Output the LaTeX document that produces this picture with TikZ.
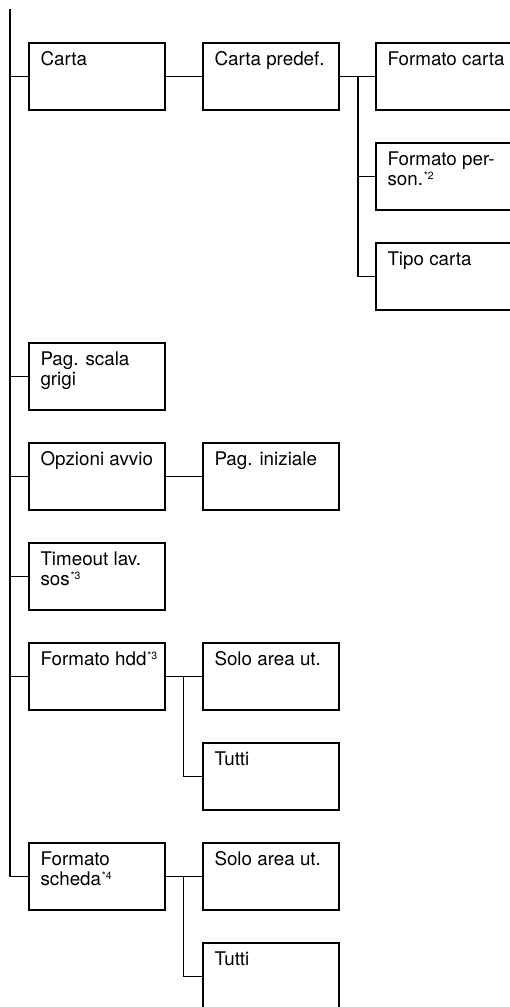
\documentclass[tikz,border=0pt]{standalone}
\usepackage{fontspec}
\setmainfont{TeX Gyre Heros}
\newcommand\bxtext[1]{\parbox[c][67pt][t]{136pt}{\raggedright\leftskip=11.5pt\rule{0pt}{22.7pt}#1}}
\newcommand\supr[1]{\kern0.8pt\raisebox{6pt}{\fontsize{10.5}{10.5}\selectfont *#1}}
\tikzset{
  menubox/.style={draw, line width=1.5pt, inner sep=0pt, outer sep=0pt,
    minimum width=136pt, minimum height=67pt, anchor=north west,
    font=\fontsize{18.8}{20}\selectfont},
  conn/.style={line width=1.5pt, line cap=rect}
}
\begin{document}
\begin{tikzpicture}[x=1pt,y=-1pt]
\useasboundingbox (0,0) rectangle (510,1007);
\clip (0,0) rectangle (510,1007);
% column 1
\node[menubox] (carta)   at (29,43)  {\bxtext{Carta}};
\node[menubox] (grigi)   at (29,343) {\bxtext{Pag. scala\\grigi}};
\node[menubox] (avvio)   at (29,443) {\bxtext{Opzioni avvio}};
\node[menubox] (timeout) at (29,543) {\bxtext{Timeout lav.\\sos\supr{3}}};
\node[menubox] (hdd)     at (29,643) {\bxtext{Formato hdd\supr{3}}};
\node[menubox] (scheda)  at (29,843) {\bxtext{Formato\\scheda\supr{4}}};
% column 2
\node[menubox] (predef)  at (203,43)  {\bxtext{Carta predef.}};
\node[menubox] (iniz)    at (203,443) {\bxtext{Pag. iniziale}};
\node[menubox] (soloA)   at (203,643) {\bxtext{Solo area ut.}};
\node[menubox] (tuttiA)  at (203,743) {\bxtext{Tutti}};
\node[menubox] (soloB)   at (203,843) {\bxtext{Solo area ut.}};
\node[menubox] (tuttiB)  at (203,943) {\bxtext{Tutti}};
% column 3
\node[menubox] (fcarta)  at (376,43)  {\bxtext{Formato carta}};
\node[menubox] (fpers)   at (376,143) {\bxtext{Formato per-\\son.\supr{2}}};
\node[menubox] (tipo)    at (376,243) {\bxtext{Tipo carta}};
% trunk
\coordinate (top) at (10,10);
\draw[conn] (top) |- (scheda.west);
\foreach \n in {carta,grigi,avvio,timeout,hdd}
  \draw[conn] (\n.west) -- (\n.west -| top);
% carta branch
\draw[conn] (carta.east) -- (predef.west);
\coordinate (brA) at (358,0);
\draw[conn] (predef.east) -- (fcarta.west);
\draw[conn] (predef.east -| brA) |- (tipo.west);
\draw[conn] (fpers.west) -- (fpers.west -| brA);
% avvio
\draw[conn] (avvio.east) -- (iniz.west);
% hdd
\coordinate (brB) at (183.5,0);
\draw[conn] (hdd.east) -- (soloA.west);
\draw[conn] (hdd.east -| brB) |- (tuttiA.west);
% scheda
\draw[conn] (scheda.east) -- (soloB.west);
\draw[conn] (scheda.east -| brB) |- (tuttiB.west);
\end{tikzpicture}
\end{document}
